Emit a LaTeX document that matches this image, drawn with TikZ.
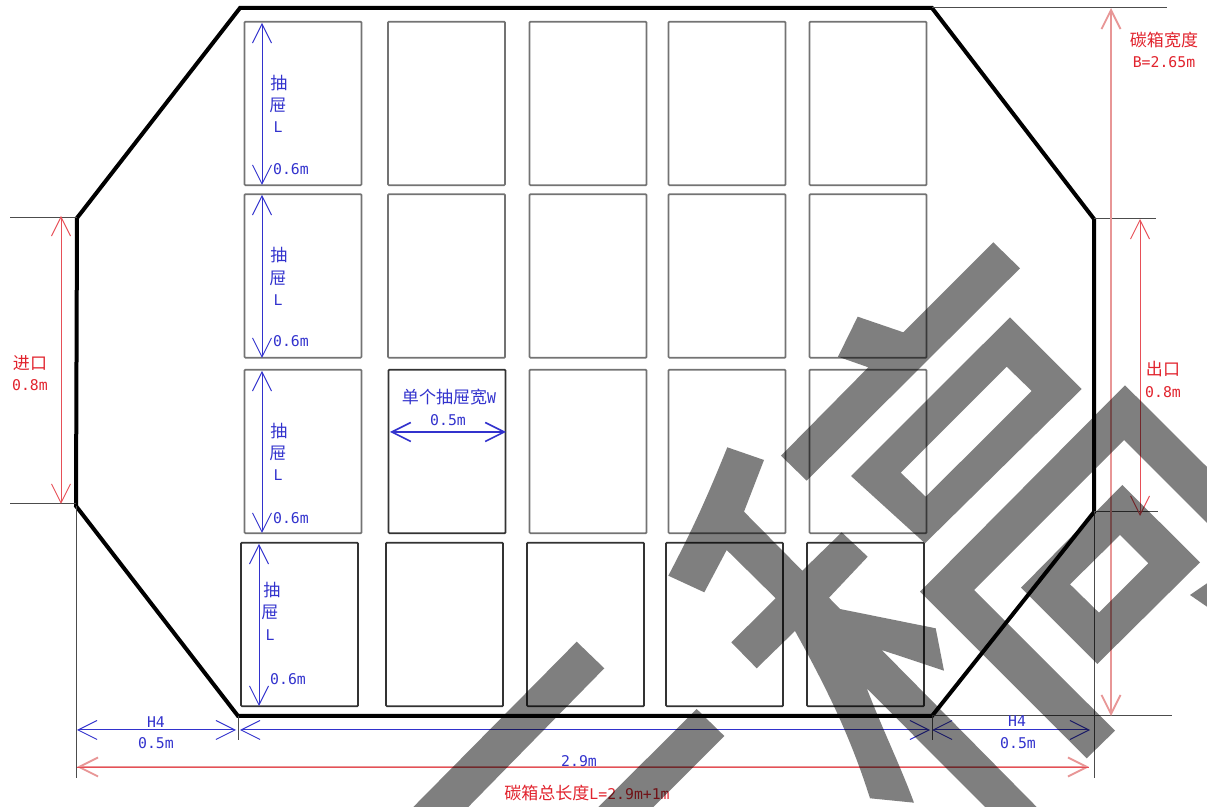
\documentclass[tikz,border=0pt]{standalone}
\usepackage{fontspec}
\usepackage{amsmath}
\setmainfont{DejaVu Sans Mono}
\newfontfamily\cjk[Scale=1.15]{Noto Sans CJK SC}
\usetikzlibrary{arrows.meta}
\definecolor{bl}{RGB}{50,50,205}
\definecolor{rd}{RGB}{225,35,45}
\definecolor{pk}{RGB}{232,150,150}
\tikzset{
	drawer/.style={draw=black!55, line width=0.85pt, rectangle, rounded corners=0.5pt, minimum width=58.5pt, minimum height=81.8pt, inner sep=0pt},
	drawerb/.style={drawer, draw=black!80},
	barb/.style={>={Straight Barb[length=9.5pt,width=9.5pt]}},
	bdim/.style={<->, barb, draw=bl, line width=0.5pt},
	rdim/.style={<->, barb, draw=rd!80, line width=0.5pt},
	pdim/.style={<->, barb, draw=pk, line width=0.9pt},
	ext/.style={draw=black!70, line width=0.5pt},
	btxt/.style={text=bl, inner sep=0pt, font=\fontsize{7.4}{9}\selectfont},
	rtxt/.style={text=rd, inner sep=0pt, font=\fontsize{7.4}{9}\selectfont},
	wmark/.style={fill=black, fill opacity=0.5, even odd rule}
}
\begin{document}
\begin{tikzpicture}[x=0.5pt, y=-0.5pt]
	\useasboundingbox (0,0) rectangle (1207,807);
	% housing corners
	\coordinate (P1)at(240,8);
	\coordinate (P2)at(932,8);
	\coordinate (P3)at(1094,219);
	\coordinate (P4)at(1094,512);
	\coordinate (P5)at(932,716);
	\coordinate (P6)at(238,716);
	\coordinate (P7)at(76,506);
	\coordinate (P8)at(77,218);
	\draw[line width=2pt, line join=miter] (P1) -- (P2) -- (P3) -- (P4) -- (P5) -- (P6) -- (P7) -- (P8) -- cycle;

	% drawers
	\node[drawer] (D11)at(303,103.5) {};
	\node[drawer] (D12)at(446.5,103.5) {};
	\node[drawer] (D13)at(588,103.5) {};
	\node[drawer] (D14)at(727,103.5) {};
	\node[drawer] (D15)at(868,103.5) {};
	\node[drawer] (D21)at(303,276) {};
	\node[drawer] (D22)at(446.5,276) {};
	\node[drawer] (D23)at(588,276) {};
	\node[drawer] (D24)at(727,276) {};
	\node[drawer] (D25)at(868,276) {};
	\node[drawer] (D31)at(303,451.5) {};
	\node[drawerb] (D32)at(447,451.5) {};
	\node[drawer] (D33)at(588,451.5) {};
	\node[drawer] (D34)at(727,451.5) {};
	\node[drawer] (D35)at(868,451.5) {};
	\node[drawerb] (D41)at(299.5,624.5) {};
	\node[drawerb] (D42)at(444.5,624.5) {};
	\node[drawerb] (D43)at(585.5,624.5) {};
	\node[drawerb] (D44)at(724.5,624.5) {};
	\node[drawerb] (D45)at(865.5,624.5) {};

	% extension lines
	\coordinate (E1)at(10,218);
	\coordinate (E2)at(10,504);
	\coordinate (E3)at(76,504);
	\coordinate (E4)at(76,778);
	\coordinate (E5)at(238,740);
	\coordinate (E6)at(1167,8);
	\coordinate (E7)at(1156,219);
	\coordinate (E8)at(1158,512);
	\coordinate (E9)at(1172,716);
	\coordinate (E10)at(1094,778);
	\coordinate (E11)at(932,740);
	\draw[ext] (E1) -- (P8);
	\draw[ext] (E2) -- (E3);
	\draw[ext] (P7) -- (E4);
	\draw[ext] (P6) -- (E5);
	\draw[ext] (P2) -- (E6);
	\draw[ext] (P3) -- (E7);
	\draw[ext] (P4) -- (E8);
	\draw[ext] (P5) -- (E9);
	\draw[ext] (P4) -- (E10);
	\draw[ext] (P5) -- (E11);

	% drawer length arrows
	\coordinate (A1)at(262,23);
	\coordinate (A2)at(262,185);
	\coordinate (A3)at(262,195);
	\coordinate (A4)at(262,358);
	\coordinate (A5)at(262,371);
	\coordinate (A6)at(262,533);
	\coordinate (A7)at(259,544);
	\coordinate (A8)at(259,706);
	\draw[bdim] (A1) -- (A2);
	\draw[bdim] (A3) -- (A4);
	\draw[bdim] (A5) -- (A6);
	\draw[bdim] (A7) -- (A8);
	\node[btxt] (T11)at(279,83) {\cjk 抽};
	\node[btxt] (T12)at(278,105) {\cjk 屉};
	\node[btxt] (T13)at(278,127) {L};
	\node[btxt] (T14)at(291,169) {0.6m};
	\node[btxt] (T21)at(279,255) {\cjk 抽};
	\node[btxt] (T22)at(278,278) {\cjk 屉};
	\node[btxt] (T23)at(278,300) {L};
	\node[btxt] (T24)at(291,341) {0.6m};
	\node[btxt] (T31)at(279,431) {\cjk 抽};
	\node[btxt] (T32)at(278,453) {\cjk 屉};
	\node[btxt] (T33)at(278,475) {L};
	\node[btxt] (T34)at(291,518) {0.6m};
	\node[btxt] (T41)at(272,590) {\cjk 抽};
	\node[btxt] (T42)at(270,612) {\cjk 屉};
	\node[btxt] (T43)at(270,635) {L};
	\node[btxt] (T44)at(288,679) {0.6m};

	% drawer width
	\coordinate (W1)at(390,432);
	\coordinate (W2)at(506,432);
	\draw[bdim, line width=0.8pt] (W1) -- (W2);
	\node[btxt] (T5)at(449,397) {{\cjk 单个抽屉宽}W};
	\node[btxt] (T6)at(448,420) {0.5m};

	% bottom dimensions
	\coordinate (B1)at(77,730);
	\coordinate (B2)at(236,730);
	\coordinate (B3)at(240,730);
	\coordinate (B4)at(930,730);
	\coordinate (B5)at(932,730);
	\coordinate (B6)at(1090,730);
	\coordinate (B7)at(77,767);
	\coordinate (B8)at(1089,767);
	\draw[bdim] (B1) -- (B2);
	\draw[bdim] (B3) -- (B4);
	\draw[bdim] (B5) -- (B6);
	\draw[pdim] (B7) -- (B8);
	\draw[rd!80, line width=0.3pt] (B7) -- (B8);
	\node[btxt] (T7)at(156,722) {H4};
	\node[btxt] (T8)at(156,743) {0.5m};
	\node[btxt] (T9)at(1017,721) {H4};
	\node[btxt] (T10)at(1018,743) {0.5m};
	\node[btxt] (T15)at(579,761) {2.9m};
	\node[rtxt] (T16)at(587,793) {{\cjk 碳箱总长度}L=2.9m+1m};

	% side dimensions
	\coordinate (S1)at(61,216);
	\coordinate (S2)at(61,504);
	\coordinate (S3)at(1111,8);
	\coordinate (S4)at(1111,716);
	\coordinate (S5)at(1140,219);
	\coordinate (S6)at(1140,516);
	\draw[rdim] (S1) -- (S2);
	\draw[pdim] (S3) -- (S4);
	\draw[rdim] (S5) -- (S6);
	\node[rtxt] (T17)at(30,363) {\cjk 进口};
	\node[rtxt] (T18)at(30,385) {0.8m};
	\node[rtxt] (T19)at(1164,40) {\cjk 碳箱宽度};
	\node[rtxt] (T20)at(1164,62) {B=2.65m};
	\node[rtxt] (T25)at(1163,369) {\cjk 出口};
	\node[rtxt] (T26)at(1163,392) {0.8m};

	% overlaid grey strokes
	\fill[wmark] (993.3,242.3) -- (1020,268.3) -- (806.7,480.7) -- (781,455.7) -- (868.3,367.3) -- (838,356.7) -- (857.7,316.7) -- (903.3,332.3) -- cycle;
	\fill[wmark] (1010,317.3) -- (1081.7,389) -- (925,543.3) -- (851,476) -- cycle (1006.7,366.7) -- (1031.7,391) -- (925.7,496.7) -- (900.7,472.7) -- cycle;
	\fill[wmark] (1125,385.3) -- (1207,467) -- (1207,523) -- (1124,440) -- (974,590) -- (1115,730.7) -- (1086.7,758.3) -- (920,591.7) -- cycle;
	\fill[wmark] (1122.3,485) -- (1200,562.3) -- (1097.3,664) -- (1021,587.7) -- cycle (1120,535) -- (1148.3,563.3) -- (1099,612.7) -- (1070,584.3) -- cycle;
	\fill[wmark] (1190,595) -- (1207,583.3) -- (1207,606.7) -- cycle;
	\fill[wmark] (727.3,447.3) -- (764,460) -- (744,511.7) -- (802.3,570.7) -- (841.7,532.3) -- (867.7,556.7) -- (829,597.7) -- (840,609) -- (935.7,628.3) -- (944,670.7) -- (881.7,650) -- (1036.7,807) -- (985,807) -- (866.7,688.3) .. controls (885,735) and (900,765) .. (914,802.7) -- (870,798.3) .. controls (850,735) and (825,685) .. (795,631) -- (756.7,668.3) -- (731.3,642.3) -- (775.7,598.3) -- (726.7,550) -- (704.3,592.3) -- (668.3,575.7) .. controls (695,525) and (710,490) .. (727.3,447.3) -- cycle;
	\fill[wmark] (576.7,641.7) -- (604.3,668.3) -- (468.3,807) -- (413.3,807) -- cycle;
	\fill[wmark] (696.7,709) -- (724.3,736) -- (653.3,807) -- (598.3,807) -- cycle;
\end{tikzpicture}
\end{document}
